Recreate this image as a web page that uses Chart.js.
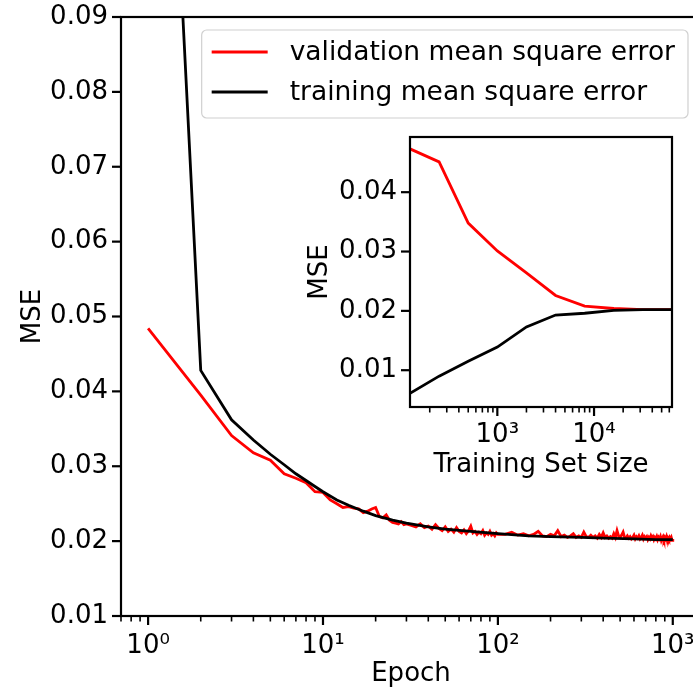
<!DOCTYPE html>
<html>
<head>
<meta charset="utf-8">
<script src="https://cdn.jsdelivr.net/npm/chart.js@4.4.0/dist/chart.umd.min.js"></script>
<style>
  html, body { margin: 0; padding: 0; background: #fff; overflow: hidden; }
  #wrap { position: relative; width: 693px; height: 690px; overflow: hidden; }
  #main { position: absolute; left: 0; top: 0; }
  #inset { position: absolute; left: 290px; top: 120px; }
</style>
</head>
<body>
<div id="wrap">
  <canvas id="main" width="720" height="690"></canvas>
  <canvas id="inset" width="400" height="370"></canvas>
</div>
<script>
// main plot: mse per epoch
const valEpochs = [1, 2, 3, 4, 5, 6, 7, 8, 9, 10, 11, 12, 13, 14, 15, 16, 17, 18, 19, 20,
    21, 22, 23, 24, 25, 26, 27, 28, 29, 30,
    32, 34, 36, 38, 40, 42, 44, 46, 48, 50, 52, 54, 56, 58, 60, 62, 64, 66, 68, 70,
    72, 74, 76, 78, 80, 82, 84, 86, 88, 90, 92, 94, 96, 98, 100,
    110, 120, 130, 140, 150, 160, 170, 180, 190, 200, 210, 220, 230, 240, 250, 260, 270, 280, 290, 300,
    310, 320, 330, 340, 350, 360, 370, 380, 390, 400, 410, 420, 430, 440, 450, 460, 470, 480, 490, 500,
    510, 520, 530, 540, 550, 560, 570, 580, 590, 600, 610, 620, 630, 640, 650, 660, 670, 680, 690, 700,
    710, 720, 730, 740, 750, 760, 770, 780, 790, 800, 810, 820, 830, 840, 850, 860, 870, 880, 890, 900,
    910, 920, 930, 940, 950, 960, 970, 980, 990, 1000];
const valMSE = [0.0484, 0.0395, 0.0341, 0.0318, 0.0308, 0.0290, 0.0284, 0.0278, 0.0266, 0.0265,
    0.0255, 0.0250, 0.0245, 0.0246, 0.0244, 0.0243, 0.0238, 0.0240, 0.0243, 0.0245,
    0.0233, 0.0231, 0.0235, 0.0228, 0.0225, 0.0224, 0.0223, 0.0226, 0.0222, 0.0223,
    0.0221, 0.0219, 0.0223, 0.0218, 0.0220, 0.0216, 0.0222, 0.0217, 0.0214, 0.0219,
    0.0213, 0.0216, 0.0212, 0.0218, 0.0213, 0.0211, 0.0215, 0.0210, 0.0214, 0.0220,
    0.0211, 0.0213, 0.0209, 0.0212, 0.0210, 0.0214, 0.0208, 0.0211, 0.0209, 0.0213,
    0.0208, 0.0210, 0.0207, 0.0211, 0.0209,
    0.0209, 0.0212, 0.0208, 0.0210, 0.0207, 0.0209, 0.0213, 0.0207, 0.0206, 0.0209,
    0.0207, 0.0214, 0.0206, 0.0208, 0.0205, 0.0207, 0.0210, 0.0205, 0.0207, 0.0205,
    0.0212, 0.0206, 0.0205, 0.0208, 0.0205, 0.0207, 0.0204, 0.0209, 0.0205, 0.0211,
    0.0205, 0.0207, 0.0204, 0.0206, 0.0204, 0.0210, 0.0205, 0.0214, 0.0207, 0.0205,
    0.0208, 0.0212, 0.0205, 0.0204, 0.0207, 0.0204, 0.0206, 0.0203, 0.0205, 0.0208,
    0.0203, 0.0206, 0.0204, 0.0207, 0.0203, 0.0205, 0.0208, 0.0203, 0.0206, 0.0204,
    0.0206, 0.0202, 0.0205, 0.0203, 0.0207, 0.0204, 0.0206, 0.0202, 0.0205, 0.0203,
    0.0206, 0.0202, 0.0205, 0.0203, 0.0206, 0.0201, 0.0204, 0.0206, 0.0202, 0.0205,
    0.0203, 0.0206, 0.0201, 0.0204, 0.0202, 0.0205, 0.0203, 0.0205, 0.0201, 0.0203];
const trainEpochs = [1, 2, 3, 4, 5, 6, 7, 8, 9, 10, 12, 14, 17, 20, 25, 30, 40, 50, 70,
    100, 150, 200, 300, 400, 600, 800, 1000];
const trainMSE = [0.182, 0.0428, 0.0362, 0.0335, 0.0316, 0.0302, 0.0290, 0.0281, 0.0273, 0.0266,
    0.0255, 0.0248, 0.0240, 0.0234, 0.0228, 0.0224, 0.0219, 0.0216, 0.0213,
    0.0210, 0.0207, 0.0206, 0.0205, 0.0204, 0.0203, 0.0202, 0.0202];

// inset: mse vs training set size
const setSizes = [125, 250, 500, 1000, 2000, 4000, 8000, 16000, 32000, 64000];
const setValMSE = [0.0473, 0.0451, 0.0348, 0.0301, 0.0264, 0.0226, 0.0208, 0.0204, 0.0202, 0.0202];
const setTrainMSE = [0.0061, 0.0090, 0.0115, 0.0139, 0.0173, 0.0193, 0.0196, 0.0201, 0.0202, 0.0202];

const mainXTicks = [1, 10, 100, 1000];
const mainYTicks = [0.01, 0.02, 0.03, 0.04, 0.05, 0.06, 0.07, 0.08, 0.09];
const insetXTicks = [1000, 10000];
const insetYTicks = [0.01, 0.02, 0.03, 0.04];
const seriesNames = ["validation mean square error", "training mean square error"];
const seriesColors = ["#ff0000", "#000000"];

Chart.defaults.font.family = "'DejaVu Sans', sans-serif";
Chart.defaults.font.size = 26;
Chart.defaults.color = "#000";

const sup = { "0": "⁰", "1": "¹", "2": "²", "3": "³", "4": "⁴", "5": "⁵" };
function tenLabel(v) {
    return "10" + sup[String(Math.round(Math.log10(v)))];
}
function pts(xs, ys) {
    return xs.map((x, i) => ({ x: x, y: ys[i] }));
}

// frame box + matplotlib-like ticks
const frameTicks = {
    id: "frameTicks",
    beforeDraw(chart) {
        const a = chart.chartArea, ctx = chart.ctx;
        ctx.save();
        ctx.fillStyle = "#fff";
        ctx.fillRect(a.left, a.top, a.right - a.left, a.bottom - a.top);
        ctx.restore();
    },
    afterDatasetsDraw(chart) {
        const { ctx, chartArea: a, scales } = chart;
        ctx.save();
        ctx.strokeStyle = "#000";
        ctx.lineWidth = 2.2;
        ctx.strokeRect(a.left, a.top, a.right - a.left, a.bottom - a.top);
        const xs = scales.x;
        for (let k = Math.floor(Math.log10(xs.min)); k <= Math.ceil(Math.log10(xs.max)); k++) {
            for (let m = 1; m < 10; m++) {
                const v = m * Math.pow(10, k);
                if (v < xs.min || v > xs.max) continue;
                const px = xs.getPixelForValue(v);
                ctx.lineWidth = m === 1 ? 2.2 : 1.6;
                ctx.beginPath();
                ctx.moveTo(px, a.bottom);
                ctx.lineTo(px, a.bottom + (m === 1 ? 9 : 5.5));
                ctx.stroke();
            }
        }
        const ys = scales.y;
        ctx.lineWidth = 2.2;
        ys.ticks.forEach(t => {
            const py = ys.getPixelForValue(t.value);
            ctx.beginPath();
            ctx.moveTo(a.left, py);
            ctx.lineTo(a.left - 9, py);
            ctx.stroke();
        });
        ctx.restore();
    }
};

// legend box in upper right of the axes
const boxLegend = {
    id: "boxLegend",
    afterDatasetsDraw(chart, args, opts) {
        if (!opts.show) return;
        const { ctx, chartArea: a } = chart;
        ctx.save();
        ctx.font = "26.5px 'DejaVu Sans', sans-serif";
        let tw = 0;
        seriesNames.forEach(n => { tw = Math.max(tw, ctx.measureText(n).width); });
        const w = 10 + 56 + 22 + tw + 13;
        const h = 88;
        const right = a.right - 13, top = a.top + 13;
        const left = right - w;
        ctx.beginPath();
        ctx.roundRect(left, top, w, h, 5);
        ctx.fillStyle = "rgba(255,255,255,0.8)";
        ctx.fill();
        ctx.strokeStyle = "#d0d0d0";
        ctx.lineWidth = 1.2;
        ctx.stroke();
        seriesNames.forEach((n, i) => {
            const y = top + 22 + i * 40;
            ctx.strokeStyle = seriesColors[i];
            ctx.lineWidth = 2.8;
            ctx.beginPath();
            ctx.moveTo(left + 10, y);
            ctx.lineTo(left + 66, y);
            ctx.stroke();
            ctx.fillStyle = "#000";
            ctx.textBaseline = "middle";
            ctx.fillText(n, left + 88, y + 1);
        });
        ctx.restore();
    }
};

function lineSet(label, data, color, order) {
    return {
        label: label,
        data: data,
        borderColor: color,
        backgroundColor: color,
        borderWidth: 2.8,
        pointRadius: 0,
        tension: 0,
        fill: false,
        order: order
    };
}

function baseOptions(cfg) {
    return {
        responsive: false,
        animation: false,
        layout: { padding: cfg.padding },
        plugins: {
            legend: { display: false },
            tooltip: { enabled: false },
            boxLegend: { show: cfg.legend }
        },
        scales: {
            x: {
                type: "logarithmic",
                min: cfg.xMin,
                max: cfg.xMax,
                // tick marks drawn by frameTicks, tickLength only spaces the labels
                grid: { display: false, drawTicks: true, tickLength: cfg.xLabelGap },
                border: { display: false },
                afterBuildTicks: s => { s.ticks = cfg.xTicks.map(v => ({ value: v })); },
                ticks: { padding: 0, maxRotation: 0, autoSkip: false, callback: v => tenLabel(v) },
                title: { display: true, text: cfg.xTitle, padding: { top: 0, bottom: cfg.xTitlePad } },
                afterFit: s => { s.height = cfg.xHeight; }
            },
            y: {
                min: cfg.yMin,
                max: cfg.yMax,
                grid: { display: false, drawTicks: true, tickLength: 13 },
                border: { display: false },
                afterBuildTicks: s => { s.ticks = cfg.yTicks.map(v => ({ value: v })); },
                ticks: { padding: 0, callback: v => v.toFixed(2) },
                title: { display: true, text: "MSE", padding: { top: cfg.yTitlePad, bottom: 0 } },
                afterFit: s => { s.width = cfg.yWidth; }
            }
        }
    };
}

new Chart(document.getElementById("main"), {
    type: "line",
    data: {
        datasets: [
            lineSet(seriesNames[0], pts(valEpochs, valMSE), seriesColors[0], 1),
            lineSet(seriesNames[1], pts(trainEpochs, trainMSE), seriesColors[1], 0)
        ]
    },
    options: baseOptions({
        padding: { top: 17, right: 19, bottom: 0, left: 0 },
        legend: true,
        xMin: 0.72, xMax: 1450, xTicks: mainXTicks, xTitle: "Epoch", xTitlePad: 0, xHeight: 74, xLabelGap: 15,
        yMin: 0.01, yMax: 0.09, yTicks: mainYTicks, yTitlePad: 18, yWidth: 121
    }),
    plugins: [frameTicks, boxLegend]
});

new Chart(document.getElementById("inset"), {
    type: "line",
    data: {
        datasets: [
            lineSet(seriesNames[0], pts(setSizes, setValMSE), seriesColors[0], 1),
            lineSet(seriesNames[1], pts(setSizes, setTrainMSE), seriesColors[1], 0)
        ]
    },
    options: baseOptions({
        padding: { top: 17, right: 18, bottom: 0, left: 0 },
        legend: false,
        xMin: 125, xMax: 64000, xTicks: insetXTicks, xTitle: "Training Set Size", xTitlePad: 9, xHeight: 83, xLabelGap: 13,
        yMin: 0.0038, yMax: 0.0493, yTicks: insetYTicks, yTitlePad: 15, yWidth: 120
    }),
    plugins: [frameTicks]
});
</script>
</body>
</html>
